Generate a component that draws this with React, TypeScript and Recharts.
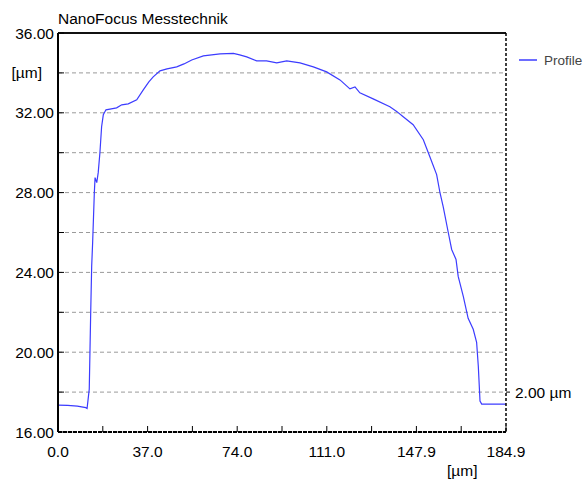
import { CartesianGrid, Line, LineChart, ReferenceLine, XAxis, YAxis } from "recharts";

// profile trace, x in µm, height in µm
const profileX = [
  0, 4, 8, 11.5, 12.0, 12.9, 13.5, 13.9, 14.3, 15.0, 15.3, 16.0, 16.6, 17.3, 18.0, 18.7, 19.8, 22.0,
  24.2, 26.3, 29.0, 32.5, 35.2, 37.5, 39.3, 42.1, 45.0, 49.0, 52.0, 55.2, 60.0, 66.9, 72.4, 75.0,
  77.9, 82.0, 86.1, 90.3, 94.4, 99.9, 105.4, 110.9, 116.4, 120.5, 122.6, 124.6, 130.1, 137.0,
  139.8, 142.5, 146.6, 150.8, 153.5, 156.3, 157.7, 159.0, 161.1, 162.5, 164.3, 165.2, 167.3,
  169.3, 171.4, 172.8, 173.5, 174.2, 174.9, 184.9,
];
const profileY = [
  17.35, 17.33, 17.3, 17.22, 17.18, 18.15, 22.0, 24.3, 25.5, 28.0, 28.75, 28.5, 29.0, 30.0, 31.3,
  31.9, 32.15, 32.2, 32.25, 32.4, 32.45, 32.65, 33.15, 33.55, 33.8, 34.1, 34.2, 34.3, 34.45, 34.65,
  34.85, 34.95, 34.98, 34.9, 34.8, 34.6, 34.6, 34.5, 34.6, 34.5, 34.3, 34.05, 33.65, 33.2, 33.3,
  33.0, 32.7, 32.3, 32.07, 31.8, 31.4, 30.65, 29.8, 28.9, 27.98, 27.3, 26.0, 25.15, 24.65, 23.8,
  22.8, 21.7, 21.15, 20.5, 19.3, 17.55, 17.4, 17.4,
];

const X_MAX = 184.93;
const xTicks = [0, 1, 2, 3, 4, 5, 6, 7, 8, 9, 10].map((i) => (X_MAX * i) / 10);
const yTicks = [16, 18, 20, 22, 24, 26, 28, 30, 32, 34, 36];
const yLabels: Record<number, string> = {
  16: "16.00",
  20: "20.00",
  24: "24.00",
  28: "28.00",
  32: "32.00",
  36: "36.00",
};
const yUnitTick = 34;
const scaleBarTick = 18;
const scaleBarLabel = "2.00 µm";

const data = profileX.map((x, i) => ({ x, y: profileY[i] }));

const FONT = "'Liberation Sans', Arial, sans-serif";
const BLUE = "#3c3cff";

function XTick(props: any) {
  const { x, y, payload, index } = props;
  return (
    <g>
      <line x1={x} x2={x} y1={y} y2={y - 6} stroke="#000" strokeWidth={1} />
      {index % 2 === 0 && (
        <text x={x} y={y + 25} textAnchor="middle" fontSize={15.5} fill="#000" fontFamily={FONT}>
          {payload.value.toFixed(1)}
        </text>
      )}
    </g>
  );
}

function LeftTick(props: any) {
  const { x, y, payload } = props;
  const v = payload.value;
  return (
    <g>
      <line x1={x} x2={x + 6} y1={y} y2={y} stroke="#000" strokeWidth={1} />
      {yLabels[v] && (
        <text x={x - 4} y={y} dy="0.36em" textAnchor="end" fontSize={15.5} fill="#000" fontFamily={FONT}>
          {yLabels[v]}
        </text>
      )}
      {v === yUnitTick && (
        <text x={x - 16} y={y} dy="0.36em" textAnchor="end" fontSize={15.5} fill="#000" fontFamily={FONT}>
          [µm]
        </text>
      )}
    </g>
  );
}

function RightTick(props: any) {
  const { x, y } = props;
  return (
    <g>
      <line x1={x} x2={x + 4} y1={y} y2={y} stroke="#000" strokeWidth={1} />
      <text x={x + 9} y={y} dy="0.36em" textAnchor="start" fontSize={15.5} fill="#000" fontFamily={FONT}>
        {scaleBarLabel}
      </text>
    </g>
  );
}

export default function App() {
  return (
    <div
      style={{
        position: "absolute",
        left: 0,
        top: 0,
        width: 583,
        height: 482,
        background: "#fff",
        fontFamily: FONT,
      }}
    >
      <div style={{ position: "absolute", left: 58, top: 10, fontSize: 15.5, color: "#000" }}>
        NanoFocus Messtechnik
      </div>
      <div style={{ position: "absolute", left: 447, top: 462, fontSize: 15.5, color: "#000" }}>[µm]</div>
      <div style={{ position: "absolute", left: 519, top: 52, display: "flex", alignItems: "center" }}>
        <svg width={18} height={16}>
          <line x1={0} x2={18} y1={8} y2={8} stroke={BLUE} strokeWidth={1.5} />
        </svg>
        <span style={{ marginLeft: 7, fontSize: 13.5, color: "#444" }}>Profile</span>
      </div>
      <LineChart width={583} height={482} data={data} margin={{ top: 33, right: 0, bottom: 0, left: 0 }}>
        <CartesianGrid horizontal vertical={false} stroke="#9a9a9a" strokeDasharray="4 3" />
        <XAxis
          dataKey="x"
          type="number"
          domain={[0, X_MAX]}
          ticks={xTicks}
          interval={0}
          height={50}
          tickSize={0}
          tickMargin={0}
          tickLine={false}
          tick={<XTick />}
          axisLine={{ stroke: "#000", strokeWidth: 2, strokeDasharray: "4 1" }}
        />
        <YAxis
          type="number"
          domain={[16, 36]}
          ticks={yTicks}
          interval={0}
          width={58}
          tickSize={0}
          tickMargin={0}
          tickLine={false}
          tick={<LeftTick />}
          axisLine={{ stroke: "#000", strokeWidth: 2 }}
        />
        <YAxis
          yAxisId="right"
          orientation="right"
          type="number"
          domain={[16, 36]}
          allowDataOverflow
          ticks={[scaleBarTick]}
          interval={0}
          width={77}
          tickSize={0}
          tickMargin={0}
          tickLine={false}
          tick={<RightTick />}
          axisLine={{ stroke: "#000", strokeWidth: 1.5, strokeDasharray: "3 2" }}
        />
        <ReferenceLine y={36} stroke="#111" strokeWidth={2} />
        <Line
          yAxisId="right"
          type="linear"
          dataKey="y"
          stroke="none"
          dot={false}
          activeDot={false}
          legendType="none"
          isAnimationActive={false}
        />
        <Line
          type="linear"
          dataKey="y"
          stroke={BLUE}
          strokeWidth={1.2}
          dot={false}
          activeDot={false}
          isAnimationActive={false}
        />
      </LineChart>
    </div>
  );
}
